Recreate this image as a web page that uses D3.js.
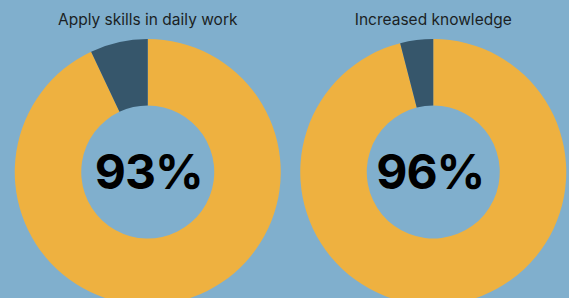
<!DOCTYPE html>
<html>
<head>
<meta charset="utf-8">
<script src="https://cdn.jsdelivr.net/npm/d3@7"></script>
<style>
  html, body { margin: 0; padding: 0; background: #80afcd; overflow: hidden; }
  svg { display: block; }
  .title { font-family: Inter, "Noto Sans", sans-serif; font-size: 15.5px; fill: #1b1f24; }
  .pct { font-family: Inter, "Noto Sans", sans-serif; font-size: 48px; font-weight: 700; fill: #000; letter-spacing: -1px; }
</style>
</head>
<body>
<svg id="chart" width="569" height="298"></svg>
<script>
// chart data
const titles = ["Apply skills in daily work", "Increased knowledge"];
const yesValues = [93, 96];
const noValues = [7, 4];
const sliceColors = ["#eeb140", "#36566b"];

const width = 569, height = 298;
const svg = d3.select("#chart");

svg.append("rect").attr("width", width).attr("height", height).attr("fill", "#80afcd");

// place the two donuts side by side
const x = d3.scaleBand().domain(titles).range([5, 576]).padding(0);
const outerR = 133, innerR = 66.5, cy = 172;

const pie = d3.pie().sort(null).value(d => d);
const arc = d3.arc().innerRadius(innerR).outerRadius(outerR);

titles.forEach((t, i) => {
    const cx = x(t) + x.bandwidth() / 2;
    const g = svg.append("g").attr("transform", `translate(${cx},${cy})`);

    g.selectAll("path")
        .data(pie([yesValues[i], noValues[i]]))
        .join("path")
        .attr("d", arc)
        .attr("fill", (d, j) => sliceColors[j]);

    g.append("text")
        .attr("class", "pct")
        .attr("text-anchor", "middle")
        .attr("x", i === 0 ? 1 : -3)
        .attr("y", 16.5)
        .text(yesValues[i] + "%");

    svg.append("text")
        .attr("class", "title")
        .attr("x", cx)
        .attr("y", 25)
        .attr("text-anchor", "middle")
        .text(t);
});
</script>
</body>
</html>
